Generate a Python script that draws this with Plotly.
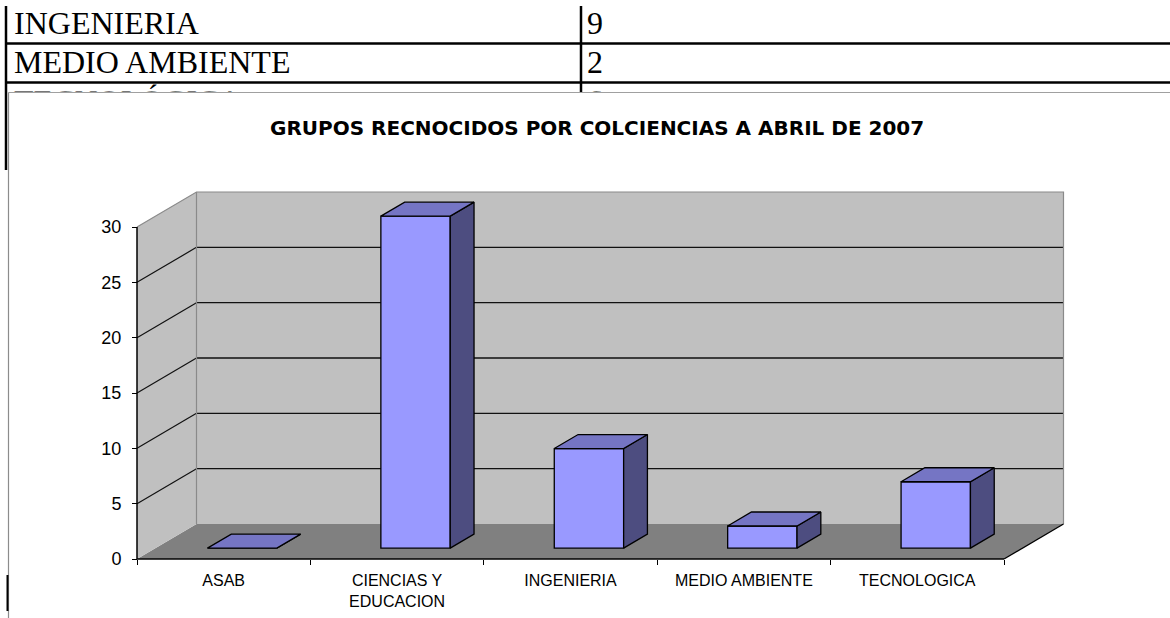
import plotly.graph_objects as go

# ---------------- data ----------------
categories = ["ASAB", "CIENCIAS Y<br>EDUCACION", "INGENIERIA", "MEDIO AMBIENTE", "TECNOLOGICA"]
values = [0, 30, 9, 2, 6]
y_ticks = [0, 5, 10, 15, 20, 25, 30]
table_labels = ["INGENIERIA", "MEDIO AMBIENTE", "TECNOLÓGICA"]
table_values = ["9", "2", "6"]
title_text = "GRUPOS RECNOCIDOS POR COLCIENCIAS A ABRIL DE 2007"

# ---------------- layout geometry (pixels) ----------------
W, H = 1170, 618
FRONT_X0, FRONT_X1 = 137, 1004      # front x-axis ends
FRONT_Y0, FRONT_YTOP = 559, 227     # value 0 / max value on front plane
DEPTH_DX_PX, DEPTH_DY_PX = 59.5, 35.0
BAR_WIDTH = 0.40
BAR_D0, BAR_D1 = 0.31, 0.71
ROW_Y0, ROW_H = 26, 39
TEXT_X0, COL2_X = 14, 587
CLIP_BOTTOM = 91.5

WALL = "#C0C0C0"
FLOOR = "#808080"
EDGE = "#8a8a8a"
GRID = "#111111"
FRONT = "#9999FF"
TOP = "#7575C4"
SIDE = "#4D4D80"

n = len(categories)
ymax = y_ticks[-1]
px_cat = (FRONT_X1 - FRONT_X0) / n
px_unit = (FRONT_Y0 - FRONT_YTOP) / ymax
DX = DEPTH_DX_PX / px_cat
DY = DEPTH_DY_PX / px_unit
x_range = [-FRONT_X0 / px_cat, (W - FRONT_X0) / px_cat]
y_range = [-(H - FRONT_Y0) / px_unit, FRONT_Y0 / px_unit]


def pxp(x):
    return x / W


def pyp(y):
    return 1 - y / H


fig = go.Figure()

# ---------------- 3D bars ----------------
hw = BAR_WIDTH / 2
dd = BAR_D1 - BAR_D0
b0 = BAR_D0 * DY
centers = [i + 0.5 + BAR_D0 * DX for i in range(n)]
sx, sy, tx, ty = [], [], [], []
for c, v in zip(centers, values):
    r = c + hw
    l = c - hw
    sx += [r, r, r + dd * DX, r + dd * DX, r, None]
    sy += [b0, b0 + v, b0 + v + dd * DY, b0 + dd * DY, b0, None]
    tx += [l, r, r + dd * DX, l + dd * DX, l, None]
    ty += [b0 + v, b0 + v, b0 + v + dd * DY, b0 + v + dd * DY, b0 + v, None]

fig.add_trace(go.Scatter(x=sx, y=sy, fill="toself", fillcolor=SIDE, mode="lines",
                         line=dict(color="black", width=1.3), hoverinfo="skip", showlegend=False))
fig.add_trace(go.Scatter(x=tx, y=ty, fill="toself", fillcolor=TOP, mode="lines",
                         line=dict(color="black", width=1.3), hoverinfo="skip", showlegend=False))
fig.add_trace(go.Bar(x=centers, y=values, base=[b0] * n, width=BAR_WIDTH,
                     marker=dict(color=FRONT, line=dict(color="black", width=1.3)),
                     hoverinfo="skip", showlegend=False))
# invisible trace so the label axis exists
fig.add_trace(go.Scatter(x=[i + 0.5 for i in range(n)], y=values, xaxis="x2", yaxis="y",
                         mode="markers", marker=dict(opacity=0), hoverinfo="skip", showlegend=False))

# ---------------- table text (clipped at chart top) ----------------
tbl_x, tbl_y, tbl_t = [], [], []
for i, (lab, val) in enumerate(zip(table_labels, table_values)):
    yy = ROW_Y0 + i * ROW_H
    tbl_x += [TEXT_X0, COL2_X]
    tbl_y += [yy, yy]
    tbl_t += [lab, val]
fig.add_trace(go.Scatter(x=tbl_x, y=tbl_y, text=tbl_t, mode="text", textposition="middle right",
                         textfont=dict(family="Liberation Serif", size=32, color="black"),
                         xaxis="x3", yaxis="y3", cliponaxis=True, hoverinfo="skip", showlegend=False))

# ---------------- walls, floor, grid ----------------
shapes = []
X5 = float(n)
shapes.append(dict(type="path", xref="x", yref="y", layer="below", line=dict(width=0), fillcolor=FLOOR,
                   path=f"M0,0 L{X5},0 L{X5+DX},{DY} L{DX},{DY} Z"))
shapes.append(dict(type="path", xref="x", yref="y", layer="below", line=dict(width=0), fillcolor=WALL,
                   path=f"M0,0 L0,{ymax} L{DX},{ymax+DY} L{DX},{DY} Z"))
shapes.append(dict(type="path", xref="x", yref="y", layer="below", line=dict(width=0), fillcolor=WALL,
                   path=f"M{DX},{DY} L{DX},{ymax+DY} L{X5+DX},{ymax+DY} L{X5+DX},{DY} Z"))
for v in y_ticks[1:-1]:
    shapes.append(dict(type="line", xref="x", yref="y", layer="below", x0=DX, x1=X5 + DX,
                       y0=v + DY, y1=v + DY, line=dict(color=GRID, width=1.4)))
    shapes.append(dict(type="line", xref="x", yref="y", layer="below", x0=0, x1=DX,
                       y0=v, y1=v + DY, line=dict(color=GRID, width=1.2)))
# wall edges
shapes.append(dict(type="path", xref="x", yref="y", layer="below", line=dict(color=EDGE, width=1.2),
                   path=f"M0,{ymax} L{DX},{ymax+DY} L{X5+DX},{ymax+DY} L{X5+DX},{DY}"))
shapes.append(dict(type="line", xref="x", yref="y", layer="below", x0=DX, x1=DX, y0=DY, y1=ymax + DY,
                   line=dict(color=EDGE, width=1.2)))
# floor right edge and axis lines
shapes.append(dict(type="line", xref="x", yref="y", layer="below", x0=X5, x1=X5 + DX, y0=0, y1=DY,
                   line=dict(color="black", width=1.3)))
shapes.append(dict(type="line", xref="x", yref="y", layer="above", x0=0, x1=X5, y0=0, y1=0,
                   line=dict(color="black", width=1.5)))
shapes.append(dict(type="line", xref="x", yref="y", layer="above", x0=0, x1=0, y0=0, y1=ymax,
                   line=dict(color="black", width=1.5)))

# ---------------- document table lines & chart frame ----------------
def pline(x0, y0, x1, y1, color="black", width=2.5):
    return dict(type="line", xref="paper", yref="paper", x0=pxp(x0), x1=pxp(x1),
                y0=pyp(y0), y1=pyp(y1), line=dict(color=color, width=width))

shapes += [
    pline(6, 43.5, W, 43.5),
    pline(6, 82.5, W, 82.5),
    pline(6, 6, 6, 170),
    pline(581, 6, 581, 92),
    pline(8.5, 92.5, W, 92.5, color="#a0a0a0", width=1.2),
    pline(8.5, 92.5, 8.5, H, color="#8c8c8c", width=1.2),
    pline(7.5, 575, 7.5, 611, color="black", width=2),
]

fig.update_layout(
    width=W, height=H,
    margin=dict(l=0, r=0, t=0, b=0),
    paper_bgcolor="white", plot_bgcolor="white",
    showlegend=False,
    barmode="overlay",
    shapes=shapes,
    xaxis=dict(domain=[0, 1], range=x_range, anchor="free", position=(H - FRONT_Y0) / H,
               tickvals=list(range(n + 1)), ticktext=[""] * (n + 1),
               ticks="outside", ticklen=5, tickwidth=1.3, tickcolor="black",
               showgrid=False, zeroline=False, showline=False, fixedrange=True),
    xaxis2=dict(overlaying="x", matches="x", range=x_range, anchor="free", position=(H - FRONT_Y0) / H,
                tickvals=[i + 0.5 for i in range(n)], ticktext=categories, ticks="",
                ticklabelstandoff=10,
                tickfont=dict(family="Liberation Sans", size=16, color="black"),
                showgrid=False, zeroline=False, showline=False, fixedrange=True),
    yaxis=dict(domain=[0, 1], range=y_range, anchor="free", position=FRONT_X0 / W,
               tickvals=y_ticks, ticks="outside", ticklen=5, tickwidth=1.3, tickcolor="black",
               ticklabelstandoff=7,
               tickfont=dict(family="Liberation Sans", size=18, color="black"),
               showgrid=False, zeroline=False, showline=False, fixedrange=True),
    xaxis3=dict(domain=[0, 1], range=[0, W], anchor="y3", visible=False, fixedrange=True),
    yaxis3=dict(domain=[1 - CLIP_BOTTOM / H, 1], range=[CLIP_BOTTOM, 0], anchor="x3",
                visible=False, fixedrange=True),
    annotations=[dict(text=f"<b>{title_text}</b>", xref="paper", yref="paper",
                      x=pxp(597), y=pyp(128), xanchor="center", yanchor="middle", showarrow=False,
                      font=dict(family="DejaVu Sans", size=20, color="black"))],
)

fig.write_html("out.html", config={"displayModeBar": False},
               post_script="document.body.style.margin='0';document.body.style.overflow='hidden';")
